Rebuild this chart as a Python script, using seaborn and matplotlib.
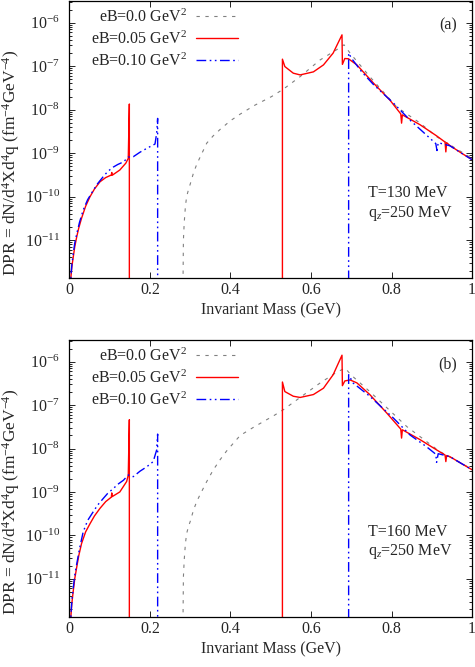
import numpy as np
import pandas as pd
import matplotlib
matplotlib.use("Agg")
import matplotlib.pyplot as plt
import matplotlib.ticker as mticker
import seaborn as sns

# ---------------- data ----------------
series_labels = ["eB=0.0 GeV$^2$", "eB=0.05 GeV$^2$", "eB=0.10 GeV$^2$"]
panel_tags = ["(a)", "(b)"]
panel_temps = ["T=130 MeV", "T=160 MeV"]
qz_text = "q$_z$=250 MeV"
xtick_vals = [0, 0.2, 0.4, 0.6, 0.8, 1.0]
xtick_labels = ["0", "0.2", "0.4", "0.6", "0.8", "1"]
ytick_vals = [1e-11, 1e-10, 1e-9, 1e-8, 1e-7, 1e-6]

# Panel (a): T = 130 MeV
a_gray_x = [0.281, 0.283, 0.285, 0.288, 0.291, 0.296, 0.300, 0.308, 0.316, 0.325, 0.341, 0.357, 0.374,
            0.399, 0.424, 0.460, 0.502, 0.531, 0.573, 0.622, 0.664, 0.682, 0.697, 0.746, 0.813, 0.870,
            0.912, 0.995]
a_gray_y = [1e-13, 1.0e-11, 2.5e-11, 6e-11, 1.0e-10, 1.5e-10, 1.95e-10, 3.5e-10, 5.5e-10, 8.3e-10, 1.7e-9,
            2.5e-9, 3.5e-9, 5.5e-9, 7.9e-9, 1.26e-8, 2.0e-8, 2.95e-8, 5.75e-8, 1.38e-7, 2.4e-7, 3.1e-7,
            2.0e-7, 5.75e-8, 1.15e-8, 5.0e-9, 2.4e-9, 8.1e-10]

a_red_lo_x = [0.002, 0.0037, 0.006, 0.0095, 0.013, 0.018, 0.023, 0.030, 0.040, 0.051, 0.062, 0.0758, 0.090,
              0.104, 0.105, 0.106, 0.125, 0.140, 0.146, 0.1487, 0.1487]
a_red_lo_y = [5e-13, 1.45e-12, 2.5e-12, 4.2e-12, 7e-12, 1.2e-11, 1.9e-11, 3.2e-11, 6e-11, 1.0e-10, 1.5e-10, 2.2e-10,
              2.75e-10, 3.15e-10, 3.6e-10, 3.1e-10, 4.1e-10, 5.9e-10, 7.6e-10, 1.35e-8, 1e-13]
a_red_hi_x = [0.529, 0.529, 0.535, 0.556, 0.573, 0.606, 0.631, 0.655, 0.677, 0.678, 0.684, 0.693, 0.714,
              0.755, 0.796, 0.823, 0.825, 0.827, 0.871, 0.912, 0.933, 0.935, 0.937, 0.945, 0.974, 1.0]
a_red_hi_y = [1e-13, 1.45e-7, 9.8e-8, 6.9e-8, 6.3e-8, 7.4e-8, 1.07e-7, 2.0e-7, 5.25e-7, 1.1e-7, 1.5e-7, 1.48e-7,
              1.07e-7, 4.1e-8, 1.66e-8, 8.0e-9, 4.9e-9, 7.6e-9, 4.5e-9, 2.5e-9, 1.8e-9, 1.07e-9, 1.74e-9,
              1.5e-9, 1.0e-9, 7.1e-10]

a_blue_lo_x = [0.002, 0.0037, 0.006, 0.0095, 0.013, 0.018, 0.025, 0.034, 0.045, 0.059, 0.070, 0.084, 0.095,
               0.109, 0.120, 0.134, 0.146, 0.1586, 0.175, 0.192, 0.2124, 0.2166, 0.219, 0.219]
a_blue_lo_y = [5e-13, 1.6e-12, 2.8e-12, 5e-12, 8.5e-12, 1.4e-11, 2.6e-11, 4.9e-11, 8.5e-11, 1.4e-10, 2.0e-10,
               2.9e-10, 3.8e-10, 4.8e-10, 5.5e-10, 6.3e-10, 8.1e-10, 8.3e-10, 1.05e-9, 1.29e-9, 1.62e-9,
               2.9e-9, 6.3e-9, 1e-13]
a_blue_hi_x = [0.6935, 0.6935, 0.701, 0.726, 0.755, 0.805, 0.846, 0.887, 0.910, 0.913, 0.916, 0.945, 0.974, 1.0]
a_blue_hi_y = [1e-13, 2.0e-7, 1.5e-7, 7.4e-8, 3.8e-8, 1.41e-8, 5.75e-9, 2.6e-9, 1.66e-9, 1.15e-9, 1.74e-9,
               1.48e-9, 1.0e-9, 7.1e-10]

# Panel (b): T = 160 MeV
b_gray_x = [0.281, 0.283, 0.285, 0.288, 0.291, 0.296, 0.300, 0.308, 0.316, 0.325, 0.341, 0.357, 0.374,
            0.390, 0.407, 0.424, 0.460, 0.508, 0.531, 0.573, 0.622, 0.664, 0.685, 0.699, 0.746, 0.838,
            0.920, 0.995]
b_gray_y = [1e-13, 1.1e-11, 2.7e-11, 6.5e-11, 1.1e-10, 1.65e-10, 2.1e-10, 3.8e-10, 6.0e-10, 8.9e-10, 1.74e-9,
            3.2e-9, 5.5e-9, 8.7e-9, 1.32e-8, 2.0e-8, 3.2e-8, 5.75e-8, 7.8e-8, 1.5e-7, 3.2e-7, 5.75e-7,
            7.1e-7, 5.0e-7, 2.05e-7, 3.2e-8, 8.5e-9, 3.55e-9]

b_red_lo_x = [0.002, 0.0037, 0.006, 0.0095, 0.013, 0.018, 0.023, 0.030, 0.040, 0.051, 0.062, 0.0758, 0.090,
              0.104, 0.105, 0.106, 0.125, 0.142, 0.146, 0.1487, 0.1487]
b_red_lo_y = [5e-13, 1.45e-12, 2.8e-12, 5.4e-12, 1.0e-11, 1.86e-11, 3.4e-11, 6.5e-11, 1.2e-10, 1.86e-10,
              2.8e-10, 4.2e-10, 6.0e-10, 7.6e-10, 9.5e-10, 7.8e-10, 1.0e-9, 1.74e-9, 2.45e-9, 4.6e-8, 1e-13]
b_red_hi_x = [0.529, 0.529, 0.535, 0.556, 0.573, 0.606, 0.631, 0.655, 0.677, 0.678, 0.684, 0.697, 0.714,
              0.746, 0.788, 0.823, 0.825, 0.827, 0.871, 0.912, 0.933, 0.935, 0.937, 0.945, 0.974, 1.0]
b_red_hi_y = [1e-13, 3.4e-7, 2.05e-7, 1.6e-7, 1.5e-7, 1.75e-7, 2.45e-7, 5.0e-7, 1.41e-6, 2.8e-7, 3.6e-7,
              3.8e-7, 3.25e-7, 1.75e-7, 6.6e-8, 2.8e-8, 1.74e-8, 2.7e-8, 1.6e-8, 9.3e-9, 7.1e-9, 5.0e-9,
              6.9e-9, 6.5e-9, 4.5e-9, 3.25e-9]

b_blue_lo_x = [0.002, 0.0037, 0.006, 0.0095, 0.013, 0.018, 0.025, 0.034, 0.045, 0.059, 0.070, 0.084, 0.095,
               0.109, 0.120, 0.134, 0.146, 0.1586, 0.175, 0.192, 0.208, 0.2166, 0.219, 0.219]
b_blue_lo_y = [5e-13, 1.6e-12, 3.2e-12, 6.3e-12, 1.2e-11, 2.2e-11, 5.0e-11, 1.2e-10, 2.2e-10, 3.5e-10,
               5.0e-10, 7.1e-10, 9.3e-10, 1.2e-9, 1.5e-9, 1.86e-9, 2.45e-9, 2.25e-9, 3.0e-9, 3.8e-9, 5.0e-9,
               9.3e-9, 2.15e-8, 1e-13]
b_blue_hi_x = [0.6935, 0.6935, 0.705, 0.746, 0.805, 0.846, 0.887, 0.910, 0.912, 0.916, 0.945, 0.974, 1.0]
b_blue_hi_y = [1e-13, 5.0e-7, 3.2e-7, 1.6e-7, 5.0e-8, 2.05e-8, 1.1e-8, 7.4e-9, 4.8e-9, 7.6e-9, 6.5e-9,
               4.5e-9, 3.25e-9]

# ---------------- styling ----------------
sns.set_theme(style="ticks")
plt.rcParams["font.family"] = ["Liberation Serif", "DejaVu Serif"]
plt.rcParams["mathtext.fontset"] = "custom"
plt.rcParams["mathtext.rm"] = "Liberation Serif"
plt.rcParams["mathtext.it"] = "Liberation Serif:italic"
plt.rcParams["mathtext.bf"] = "Liberation Serif:bold"
FS = 11.5

GRAY = "#808080"
RED = "#ff0000"
BLUE = "#0000ff"
gray_ls = (0, (3, 5))
blue_ls = (0, (7, 2.5, 1.2, 2.5, 1.2, 2.5))

YMIN, YMAX = 1.34e-12, 3.15e-6

fig = plt.figure(figsize=(4.75, 6.67), dpi=100)
ax_a = fig.add_axes([0.1463, 0.583, 0.8474, 0.4155])
ax_b = fig.add_axes([0.1463, 0.0754, 0.8474, 0.4148])

panels = [
    (ax_a, a_gray_x, a_gray_y, a_red_lo_x, a_red_lo_y, a_red_hi_x, a_red_hi_y,
     a_blue_lo_x, a_blue_lo_y, a_blue_hi_x, a_blue_hi_y),
    (ax_b, b_gray_x, b_gray_y, b_red_lo_x, b_red_lo_y, b_red_hi_x, b_red_hi_y,
     b_blue_lo_x, b_blue_lo_y, b_blue_hi_x, b_blue_hi_y),
]

for i, (ax, gx, gy, rlx, rly, rhx, rhy, blx, bly, bhx, bhy) in enumerate(panels):
    ax.set_yscale("log")
    common = dict(ax=ax, estimator=None, sort=False, legend=False)
    sns.lineplot(x=gx, y=gy, color=GRAY, lw=0.8, linestyle=gray_ls, **common)
    sns.lineplot(x=rlx, y=rly, color=RED, lw=1.0, **common)
    sns.lineplot(x=rhx, y=rhy, color=RED, lw=1.0, **common)
    sns.lineplot(x=blx, y=bly, color=BLUE, lw=1.0, linestyle=blue_ls, **common)
    sns.lineplot(x=bhx, y=bhy, color=BLUE, lw=1.0, linestyle=blue_ls, **common)

    lines = ax.get_lines()
    handles = [lines[0], lines[1], lines[3]]
    ax.legend(handles, series_labels, loc="upper right", bbox_to_anchor=(0.418, 0.972),
              markerfirst=False, frameon=False, fontsize=FS, handlelength=2.6,
              handletextpad=0.6, labelspacing=0.28, borderpad=0.0, borderaxespad=0.0)

    ax.set_xlim(0, 1)
    ax.set_ylim(YMIN, YMAX)
    ax.set_xticks(xtick_vals)
    ax.set_xticklabels(xtick_labels)
    ax.xaxis.set_minor_locator(mticker.NullLocator())
    ax.yaxis.set_major_locator(mticker.FixedLocator(ytick_vals))
    ax.yaxis.set_major_formatter(mticker.LogFormatterSciNotation())
    minor_vals = [m * d for d in [1e-12] + ytick_vals for m in range(2, 10)
                  if YMIN <= m * d <= YMAX]
    ax.yaxis.set_minor_locator(mticker.FixedLocator(minor_vals))
    ax.yaxis.set_minor_formatter(mticker.NullFormatter())
    ax.tick_params(axis="both", which="both", direction="in", top=True, right=True,
                   labelsize=FS, width=0.6, color="black")
    ax.tick_params(axis="both", which="major", length=4)
    ax.tick_params(axis="both", which="minor", length=2)
    ax.tick_params(axis="x", which="major", pad=3)
    ax.tick_params(axis="y", which="major", pad=7)
    for sp in ax.spines.values():
        sp.set_linewidth(0.9)
        sp.set_color("black")

    ax.set_xlabel("Invariant Mass (GeV)", fontsize=FS, labelpad=3)
    ax.set_ylabel("DPR = dN/d$^4$Xd$^4$q (fm$^{-4}$GeV$^{-4}$)", fontsize=12.5)
    ax.yaxis.set_label_coords(-0.118, 0.415)

    ax.text(0.940, 0.913, panel_tags[i], transform=ax.transAxes, fontsize=FS,
            ha="center", va="center")
    ax.text(0.742, 0.307, panel_temps[i], transform=ax.transAxes, fontsize=FS,
            ha="left", va="center")
    ax.text(0.742, 0.235, qz_text, transform=ax.transAxes, fontsize=FS,
            ha="left", va="center")

fig.savefig("out.png", dpi=100)
